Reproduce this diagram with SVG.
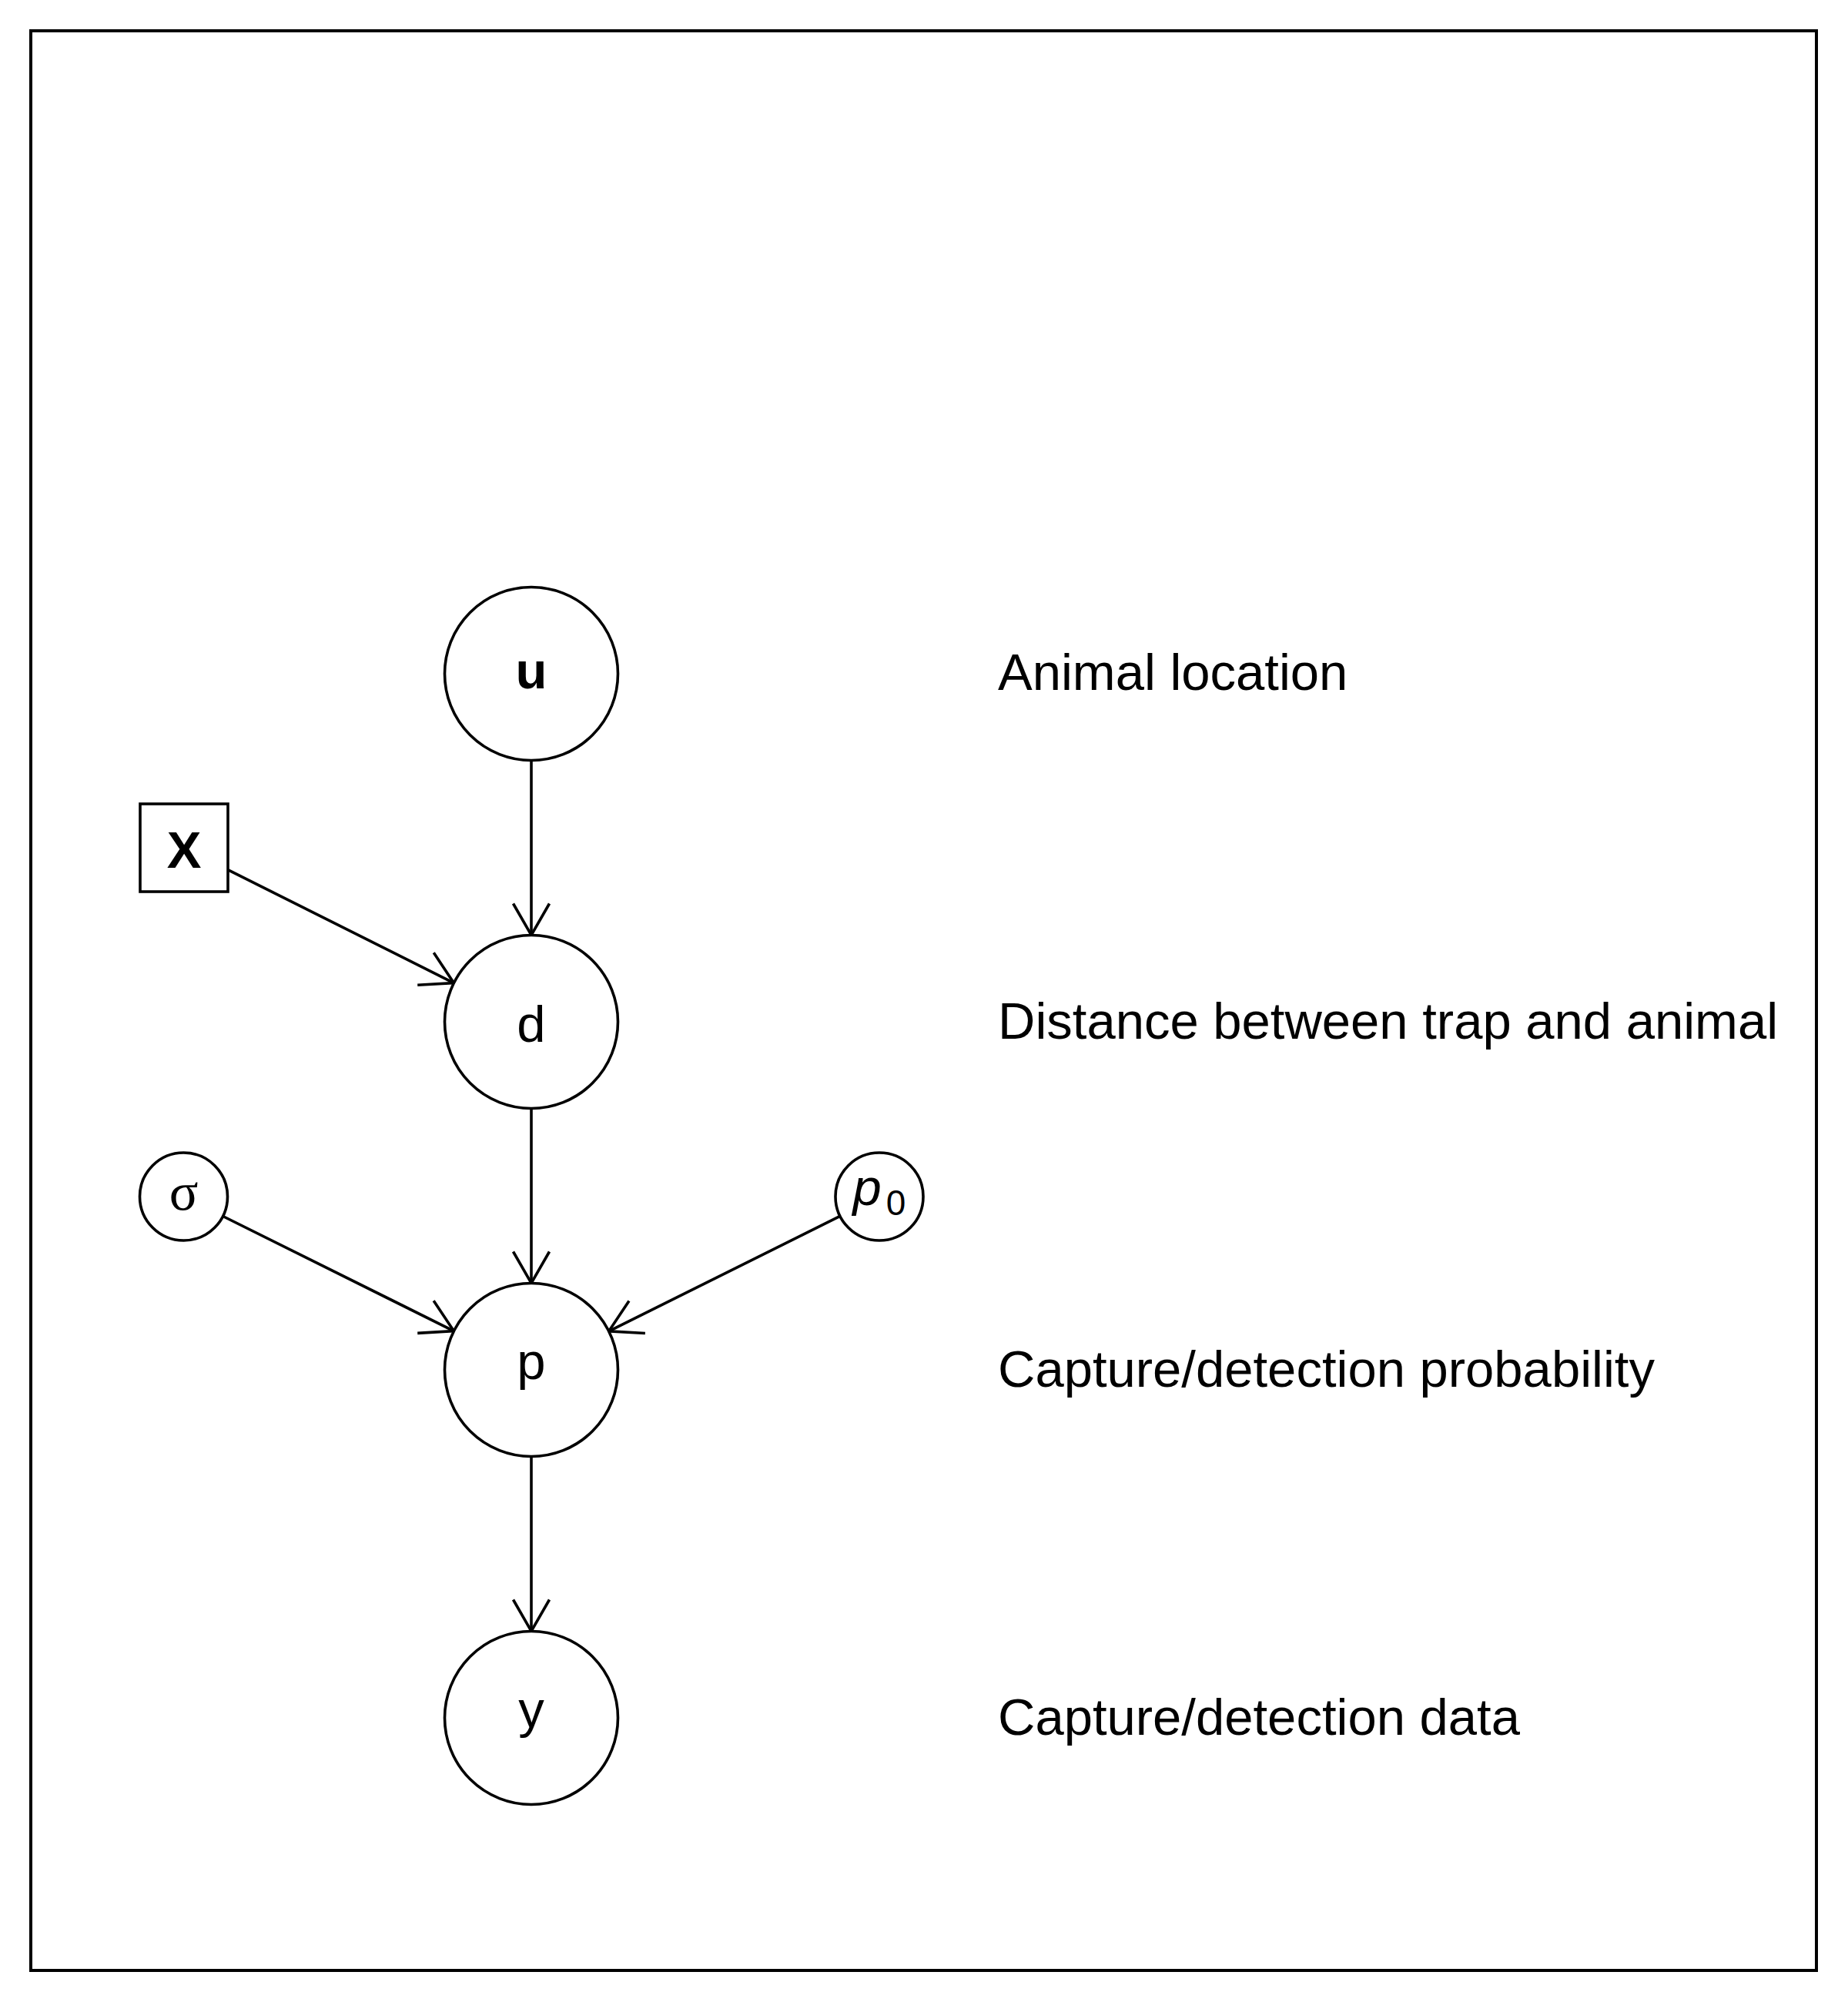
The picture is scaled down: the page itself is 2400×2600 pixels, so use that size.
<svg xmlns="http://www.w3.org/2000/svg" width="2400" height="2600" viewBox="0 0 2400 2600">
<style>
.node{fill:#fff;stroke:#000;stroke-width:3.6}
.edge{fill:none;stroke:#000;stroke-width:3.6}
.lbl{font-family:"Liberation Sans",Arial,sans-serif;font-size:67px;fill:#000}
.nl{font-family:"Liberation Sans",Arial,sans-serif;font-size:67px;fill:#000;text-anchor:middle}
</style>
<defs>
<marker id="arr" markerUnits="userSpaceOnUse" viewBox="-50 -30 60 60" markerWidth="60" markerHeight="60" refX="0" refY="0" orient="auto" overflow="visible">
<path d="M-41,-23.5 L0,0 L-41,23.5" fill="none" stroke="#000" stroke-width="3.6"/>
</marker>
</defs>
<rect x="0" y="0" width="2400" height="2600" fill="#fff"/>
<rect x="40" y="40" width="2319" height="2519" fill="none" stroke="#000" stroke-width="4"/>
<g id="connectors">
<line class="edge" x1="690" y1="987.5" x2="690" y2="1214.5" marker-end="url(#arr)"/>
<line class="edge" x1="296" y1="1129.6" x2="589.4" y2="1276.6" marker-end="url(#arr)"/>
<line class="edge" x1="690" y1="1439.5" x2="690" y2="1666.5" marker-end="url(#arr)"/>
<line class="edge" x1="289.5" y1="1579.5" x2="589.4" y2="1728.6" marker-end="url(#arr)"/>
<line class="edge" x1="1091" y1="1579.4" x2="790.7" y2="1728.8" marker-end="url(#arr)"/>
<line class="edge" x1="690" y1="1891.5" x2="690" y2="2118.5" marker-end="url(#arr)"/>
</g>
<g id="node-u">
<circle class="node" cx="690" cy="875" r="112.5"/>
<text class="nl" x="690" y="894" font-weight="bold">u</text>
</g>
<g id="node-X">
<rect class="node" x="182" y="1044" width="114" height="114"/>
<text class="nl" x="239" y="1127" font-weight="bold">X</text>
</g>
<g id="node-d">
<circle class="node" cx="690" cy="1327" r="112.5"/>
<text class="nl" x="690" y="1353">d</text>
</g>
<g id="node-sigma">
<circle class="node" cx="238.5" cy="1554" r="57"/>
<text x="238.5" y="1571" text-anchor="middle" font-family="'Liberation Serif','Times New Roman',serif" font-size="70">σ</text>
</g>
<g id="node-p0">
<circle class="node" cx="1142" cy="1554" r="57"/>
<text class="nl" x="1142" y="1565"><tspan font-style="italic">p</tspan><tspan font-size="46" dx="6" dy="13">0</tspan></text>
</g>
<g id="node-p">
<circle class="node" cx="690" cy="1779" r="112.5"/>
<text class="nl" x="690" y="1791">p</text>
</g>
<g id="node-y">
<circle class="node" cx="690" cy="2231" r="112.5"/>
<text class="nl" x="690" y="2243">y</text>
</g>
<g id="labels">
<text class="lbl" x="1296" y="896">Animal location</text>
<text class="lbl" x="1296" y="1349">Distance between trap and animal</text>
<text class="lbl" x="1296" y="1801">Capture/detection probability</text>
<text class="lbl" x="1296" y="2253">Capture/detection data</text>
</g>
</svg>
